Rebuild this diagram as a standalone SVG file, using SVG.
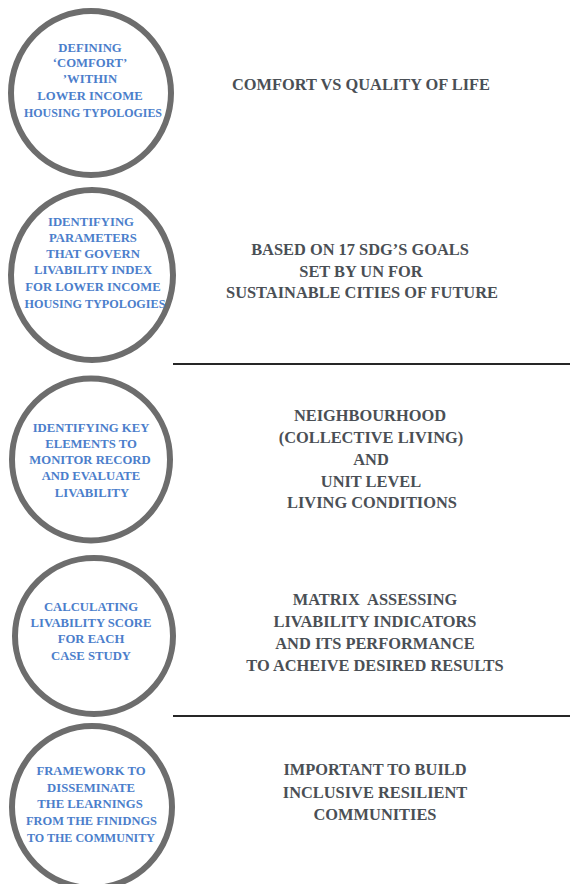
<svg xmlns="http://www.w3.org/2000/svg" width="570" height="884" viewBox="0 0 570 884">
  <style>
    .ring { fill: #ffffff; stroke: #6d6d6d; stroke-width: 6; }
    .step { font-family: "Liberation Serif", "Times New Roman", serif; font-weight: bold; font-size: 12.7px; fill: #4b7ecb; text-anchor: middle; }
    .note { font-family: "Liberation Serif", "Times New Roman", serif; font-weight: bold; font-size: 16.4px; fill: #4a4f55; text-anchor: middle; }
    .rule { stroke: #262626; stroke-width: 2.2; }
  </style>
  <rect width="570" height="884" fill="#ffffff"/>

  <!-- separators -->
  <g id="connectors">
    <line class="rule" x1="173" y1="364" x2="570" y2="364"/>
    <line class="rule" x1="173" y1="716" x2="570" y2="716"/>
  </g>

  <!-- step 1 -->
  <g id="step1">
    <ellipse class="ring" cx="91" cy="93" rx="80" ry="82"/>
    <text class="step" x="90" y="52">DEFINING</text>
    <text class="step" x="90" y="67">‘COMFORT’</text>
    <text class="step" x="90" y="83">’WITHIN</text>
    <text class="step" x="90" y="100">LOWER INCOME</text>
    <text class="step" x="93" y="117" textLength="138" lengthAdjust="spacingAndGlyphs">HOUSING TYPOLOGIES</text>
  </g>
  <g id="note1">
    <text class="note" x="361" y="90">COMFORT VS QUALITY OF LIFE</text>
  </g>

  <!-- step 2 -->
  <g id="step2">
    <ellipse class="ring" cx="92" cy="275" rx="81" ry="85"/>
    <text class="step" x="91" y="226">IDENTIFYING</text>
    <text class="step" x="93" y="242">PARAMETERS</text>
    <text class="step" x="93" y="258">THAT GOVERN</text>
    <text class="step" x="93" y="274">LIVABILITY INDEX</text>
    <text class="step" x="93" y="291">FOR LOWER INCOME</text>
    <text class="step" x="95" y="308" textLength="141" lengthAdjust="spacingAndGlyphs">HOUSING TYPOLOGIES</text>
  </g>
  <g id="note2">
    <text class="note" x="360" y="255">BASED ON 17 SDG’S GOALS</text>
    <text class="note" x="361" y="277">SET BY UN FOR</text>
    <text class="note" x="362" y="298">SUSTAINABLE CITIES OF FUTURE</text>
  </g>

  <!-- step 3 -->
  <g id="step3">
    <ellipse class="ring" cx="91" cy="459.5" rx="79" ry="81"/>
    <text class="step" x="91" y="432">IDENTIFYING KEY</text>
    <text class="step" x="91" y="448">ELEMENTS TO</text>
    <text class="step" x="90" y="464">MONITOR RECORD</text>
    <text class="step" x="91" y="480">AND EVALUATE</text>
    <text class="step" x="92" y="497">LIVABILITY</text>
  </g>
  <g id="note3">
    <text class="note" x="370" y="421">NEIGHBOURHOOD</text>
    <text class="note" x="371" y="443">(COLLECTIVE LIVING)</text>
    <text class="note" x="371" y="465">AND</text>
    <text class="note" x="371" y="487">UNIT LEVEL</text>
    <text class="note" x="372" y="508">LIVING CONDITIONS</text>
  </g>

  <!-- step 4 -->
  <g id="step4">
    <ellipse class="ring" cx="94" cy="636" rx="79" ry="78"/>
    <text class="step" x="91" y="611">CALCULATING</text>
    <text class="step" x="91" y="627">LIVABILITY SCORE</text>
    <text class="step" x="91" y="643">FOR EACH</text>
    <text class="step" x="91" y="660">CASE STUDY</text>
  </g>
  <g id="note4">
    <text class="note" x="375" y="605">MATRIX&#160; ASSESSING</text>
    <text class="note" x="375" y="627">LIVABILITY INDICATORS</text>
    <text class="note" x="375" y="649">AND ITS PERFORMANCE</text>
    <text class="note" x="375" y="671">TO ACHEIVE DESIRED RESULTS</text>
  </g>

  <!-- step 5 -->
  <g id="step5">
    <ellipse class="ring" cx="92" cy="807" rx="80" ry="81"/>
    <text class="step" x="91" y="775">FRAMEWORK TO</text>
    <text class="step" x="91" y="792">DISSEMINATE</text>
    <text class="step" x="90" y="808">THE LEARNINGS</text>
    <text class="step" x="91.5" y="825" textLength="131" lengthAdjust="spacingAndGlyphs">FROM THE FINIDNGS</text>
    <text class="step" x="91" y="842" textLength="128" lengthAdjust="spacingAndGlyphs">TO THE COMMUNITY</text>
  </g>
  <g id="note5">
    <text class="note" x="375" y="775">IMPORTANT TO BUILD</text>
    <text class="note" x="375" y="798">INCLUSIVE RESILIENT</text>
    <text class="note" x="375" y="820">COMMUNITIES</text>
  </g>
</svg>
